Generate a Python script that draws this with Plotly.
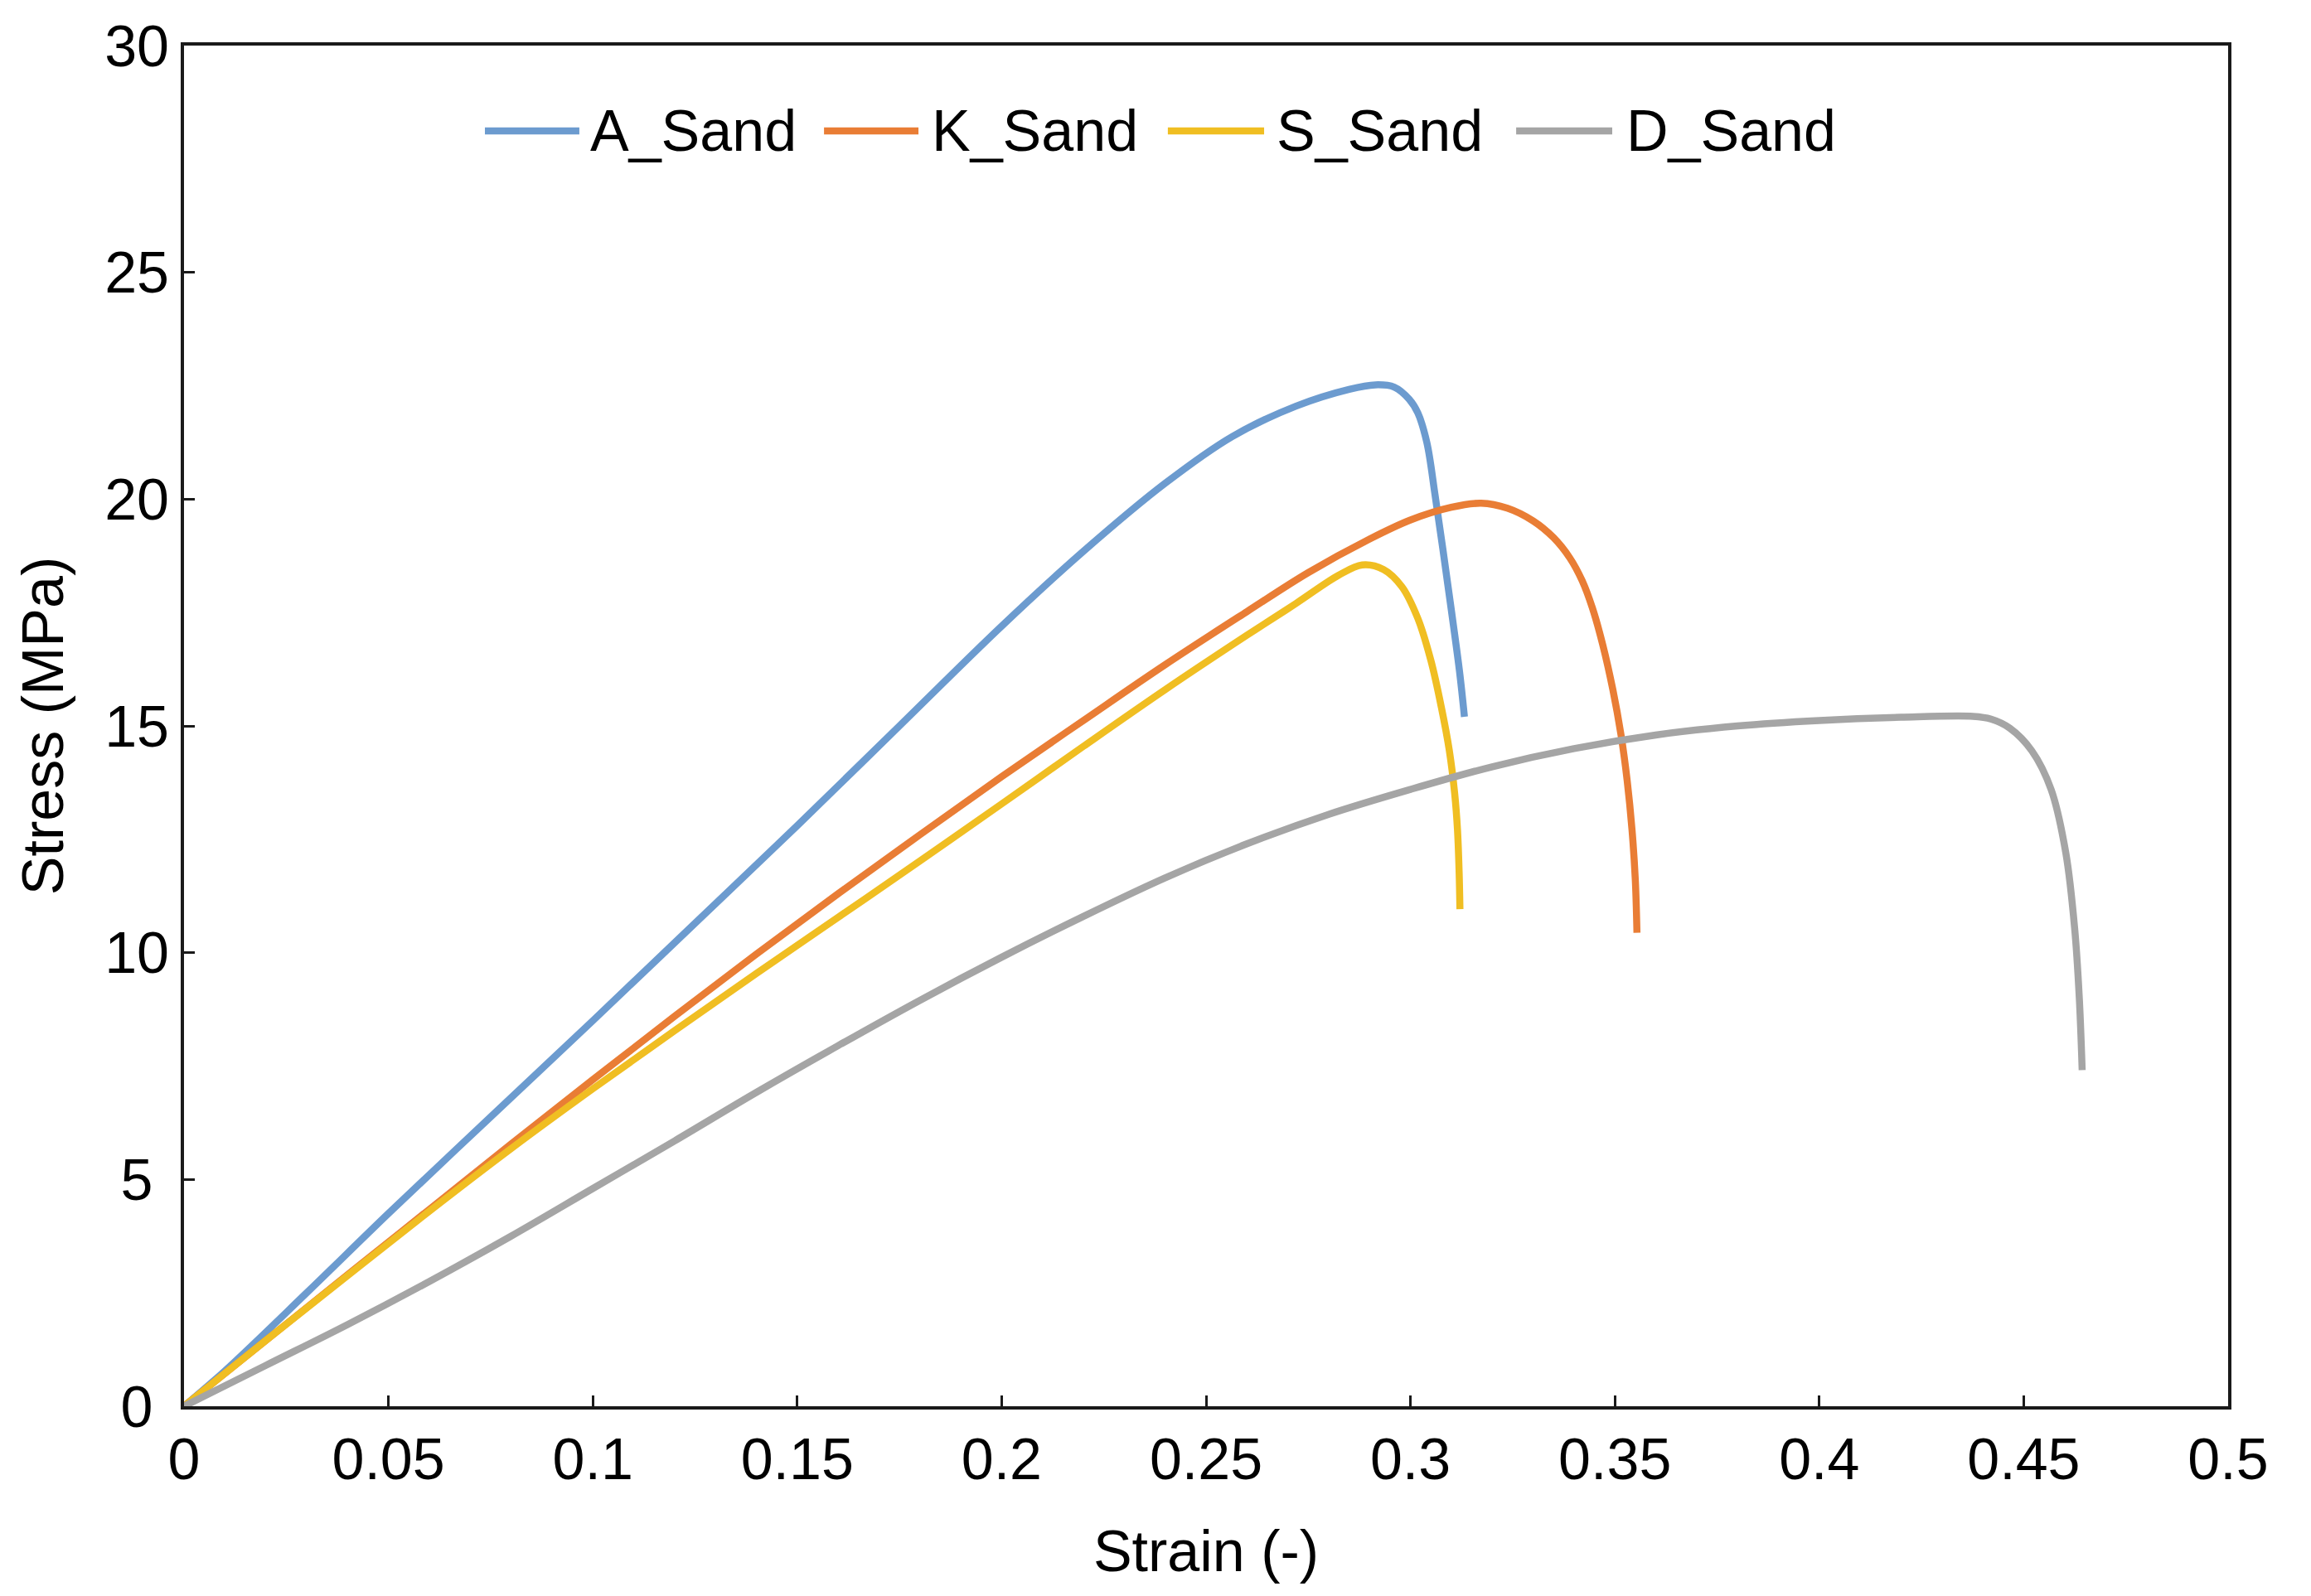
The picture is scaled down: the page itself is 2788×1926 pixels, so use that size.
import plotly.graph_objects as go

# ---------------- data ----------------
a_strain = [0.0, 0.01, 0.03, 0.05, 0.075, 0.10, 0.125, 0.15, 0.175, 0.20,
            0.22, 0.24, 0.2564, 0.272, 0.285, 0.2914, 0.296, 0.2997, 0.3018, 0.3040,
            0.3060, 0.3080, 0.3100, 0.3120, 0.3132]
a_stress = [0.0, 0.78, 2.50, 4.25, 6.38, 8.50, 10.65, 12.80, 15.00, 17.20,
            18.85, 20.35, 21.38, 22.05, 22.42, 22.52, 22.47, 22.20, 21.90, 21.25,
            20.10, 18.85, 17.55, 16.20, 15.20]

k_strain = [0.0, 0.02, 0.04, 0.06, 0.08, 0.10, 0.12, 0.14, 0.16, 0.18,
            0.20, 0.22, 0.24, 0.26, 0.275, 0.29, 0.30, 0.31, 0.3173, 0.3237,
            0.3300, 0.3350, 0.3390, 0.3420, 0.3445, 0.3470, 0.3495, 0.3515, 0.3530, 0.3542,
            0.3550, 0.3554]
k_stress = [0.0, 1.45, 2.90, 4.34, 5.78, 7.20, 8.60, 9.97, 11.30, 12.60,
            13.88, 15.12, 16.35, 17.52, 18.38, 19.12, 19.54, 19.82, 19.91, 19.80,
            19.52, 19.15, 18.70, 18.20, 17.60, 16.80, 15.80, 14.80, 13.80, 12.70,
            11.60, 10.44]

s_strain = [0.0, 0.02, 0.04, 0.06, 0.08, 0.10, 0.12, 0.14, 0.16, 0.18,
            0.20, 0.22, 0.24, 0.26, 0.272, 0.2824, 0.2882, 0.2934, 0.2979, 0.3018,
            0.3050, 0.3076, 0.3095, 0.3108, 0.3115, 0.3119, 0.3121]
s_stress = [0.0, 1.45, 2.88, 4.30, 5.68, 7.00, 8.28, 9.54, 10.78, 12.02,
            13.28, 14.55, 15.80, 17.00, 17.70, 18.32, 18.55, 18.45, 18.07, 17.37,
            16.44, 15.39, 14.46, 13.52, 12.71, 11.78, 10.96]

d_strain = [0.0, 0.02, 0.04, 0.06, 0.08, 0.10, 0.12, 0.14, 0.16, 0.18,
            0.20, 0.22, 0.24, 0.26, 0.28, 0.30, 0.32, 0.34, 0.36, 0.38,
            0.40, 0.42, 0.4376, 0.4420, 0.4466, 0.4520, 0.4567, 0.4603, 0.4625, 0.4636,
            0.4643]
d_stress = [0.0, 0.90, 1.80, 2.75, 3.75, 4.80, 5.85, 6.92, 7.95, 8.95,
            9.90, 10.80, 11.65, 12.40, 13.05, 13.60, 14.10, 14.50, 14.80, 15.00,
            15.12, 15.19, 15.21, 15.15, 14.95, 14.45, 13.60, 12.20, 10.50, 9.00,
            7.41]

series_names = ["A_Sand", "K_Sand", "S_Sand", "D_Sand"]
series_x = [a_strain, k_strain, s_strain, d_strain]
series_y = [a_stress, k_stress, s_stress, d_stress]
series_colors = ["#6C9BCF", "#E97D35", "#F0BE22", "#A5A5A5"]

x_ticks = [0, 0.05, 0.1, 0.15, 0.2, 0.25, 0.3, 0.35, 0.4, 0.45, 0.5]
x_tick_labels = ["0", "0.05", "0.1", "0.15", "0.2", "0.25", "0.3", "0.35", "0.4", "0.45", "0.5"]
y_ticks = [0, 5, 10, 15, 20, 25, 30]
y_tick_labels = ["0", "5", "10", "15", "20", "25", "30"]

# ---------------- figure ----------------
FONT = "Liberation Sans, Arial, Helvetica, sans-serif"
W, H = 2788, 1926
ML, MR, MT, MB = 222, 100, 55, 229

fig = go.Figure()
for name, xs, ys, col in zip(series_names, series_x, series_y, series_colors):
    fig.add_trace(go.Scatter(
        x=xs, y=ys, name=name, mode="lines",
        line=dict(color=col, width=8.5, shape="spline", smoothing=1.0),
        showlegend=False,
    ))

# Custom legend (long line samples like the reference)
leg_y = 0.9373
leg_items = [(0.1472, 0.1934, 0.1979), (0.3131, 0.3593, 0.3650),
             (0.4813, 0.5284, 0.5337), (0.6517, 0.6987, 0.7048)]
for (x0, x1, xt), name, col in zip(leg_items, series_names, series_colors):
    fig.add_shape(type="line", xref="paper", yref="paper", x0=x0, x1=x1, y0=leg_y, y1=leg_y,
                  line=dict(color=col, width=8.5))
    fig.add_annotation(xref="paper", yref="paper", x=xt, y=leg_y, text=name,
                       showarrow=False, xanchor="left", yanchor="middle",
                       font=dict(family=FONT, size=70, color="#000000"))

# pad single-digit y labels so they look centred like the reference
y_text = [t if len(t) > 1 else t + "\u00a0" for t in y_tick_labels]

axis_common = dict(
    showline=True, linecolor="#1a1a1a", linewidth=4, mirror=True,
    ticks="inside", ticklen=13, tickwidth=3, tickcolor="#1a1a1a",
    showgrid=False, zeroline=False,
    tickfont=dict(family=FONT, size=70, color="#000000"),
)

fig.update_layout(
    width=W, height=H,
    margin=dict(l=ML, r=MR, t=MT, b=MB, pad=0),
    paper_bgcolor="white", plot_bgcolor="white",
    font=dict(family=FONT, size=70, color="#000000"),
    xaxis=dict(range=[0, 0.5], tickvals=x_ticks, ticktext=x_tick_labels,
               title=dict(text="Strain (-)", font=dict(family=FONT, size=70), standoff=49),
               **axis_common),
    yaxis=dict(range=[0, 30], tickvals=y_ticks, ticktext=y_text,
               title=dict(text="Stress (MPa)", font=dict(family=FONT, size=70), standoff=28),
               **axis_common),
)

fig.write_html("out.html", include_plotlyjs=True, config={"displayModeBar": False},
               post_script="document.body.style.margin='0';document.body.style.overflow='hidden';")
